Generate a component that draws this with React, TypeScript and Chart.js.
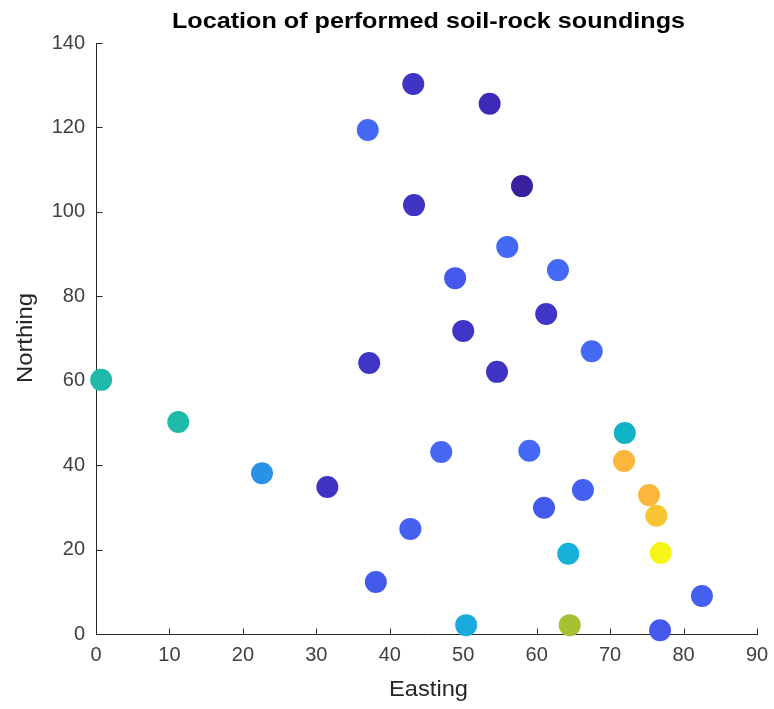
import React, { useEffect, useRef } from "react";
import { Chart, registerables } from "chart.js";

Chart.register(...registerables);

const chartTitle = "Location of performed soil-rock soundings";
const xTitle = "Easting";
const yTitle = "Northing";

const easting = [
  0.7, 11.2, 22.6, 31.5, 38.1, 42.8, 47.0, 50.4, 37.2, 37.0, 43.2,
  43.3, 53.6, 58.0, 56.0, 48.9, 62.9, 50.0, 61.3, 67.5, 54.6, 59.0,
  61.0, 66.3, 64.3, 64.5, 72.0, 71.9, 75.3, 76.3, 76.9, 76.8, 82.5,
];
const northing = [
  60.2, 50.2, 38.1, 34.8, 12.3, 24.9, 43.1, 2.1, 64.2, 119.4, 130.3,
  101.6, 125.6, 106.1, 91.7, 84.3, 86.2, 71.8, 75.8, 67.0, 62.1, 43.4,
  29.9, 34.1, 19.0, 2.1, 47.6, 41.0, 32.9, 28.0, 19.2, 0.9, 9.0,
];
const pointColors = [
  "#1fbba8", "#1fbba8", "#2a92e6", "#3f33c4", "#4359ec", "#4660f0", "#4666f4",
  "#1aaadd", "#3f35c6", "#4468f5", "#3f34c4", "#3f34c4", "#3c2bb6", "#38209f",
  "#4469f5", "#4458ec", "#4469f5", "#3f35c6", "#3f35c6", "#4469f5", "#3f33c4",
  "#4469f5", "#445aee", "#4460f0", "#16b0d8", "#a6c131", "#12b2c6", "#fbb63c",
  "#fbb63c", "#f8c532", "#f7f41a", "#4458ec", "#4460f0",
];
const xMin = 0, xMax = 90, xStep = 10;
const yMin = 0, yMax = 140, yStep = 20;

const AXIS = "#262626";
const FAMILY = "'Liberation Sans', Arial, sans-serif";

const overlay = {
  id: "overlay",
  beforeDatasetsDraw(chart: any) {
    const { ctx, chartArea, scales } = chart;
    const x = scales.x, y = scales.y;
    ctx.save();
    ctx.strokeStyle = AXIS;
    ctx.lineWidth = 1;
    ctx.beginPath();
    const b = Math.round(chartArea.bottom) + 0.5;
    const l = Math.round(chartArea.left) + 0.5;
    ctx.moveTo(l, Math.round(chartArea.top));
    ctx.lineTo(l, b);
    ctx.lineTo(Math.round(chartArea.right) + 1, b);
    x.ticks.forEach((t: any) => {
      const px = Math.round(x.getPixelForValue(t.value)) + 0.5;
      ctx.moveTo(px, b);
      ctx.lineTo(px, b - 6);
    });
    y.ticks.forEach((t: any) => {
      const py = Math.round(y.getPixelForValue(t.value)) + 0.5;
      ctx.moveTo(l, py);
      ctx.lineTo(l + 6, py);
    });
    ctx.stroke();
    ctx.restore();
  },
  afterDraw(chart: any) {
    const { ctx, chartArea } = chart;
    const cx = (chartArea.left + chartArea.right) / 2 + 2;
    const drawText = (text: string, font: string, color: string, x: number, yy: number, width: number, rot: number) => {
      ctx.save();
      ctx.font = font;
      ctx.fillStyle = color;
      ctx.textAlign = "center";
      ctx.textBaseline = "middle";
      const w = ctx.measureText(text).width;
      ctx.translate(x, yy);
      ctx.rotate(rot);
      ctx.scale(width / w, 1);
      ctx.fillText(text, 0, 0);
      ctx.restore();
    };
    drawText(chartTitle, "bold 22px " + FAMILY, "#000", cx, 22, 513, 0);
    drawText(xTitle, "22px " + FAMILY, AXIS, cx, 690, 79, 0);
    drawText(yTitle, "22px " + FAMILY, AXIS, 26, 338, 90, -Math.PI / 2);
  },
};

export default function App() {
  const ref = useRef<HTMLCanvasElement>(null);
  useEffect(() => {
    document.body.style.margin = "0";
    const data = easting.map((e, i) => ({ x: e, y: northing[i] }));
    const chart = new Chart(ref.current as HTMLCanvasElement, {
      type: "scatter",
      data: {
        datasets: [
          {
            data,
            backgroundColor: pointColors,
            borderWidth: 0,
            pointRadius: 11,
            pointHoverRadius: 11,
            clip: false,
          } as any,
        ],
      },
      plugins: [overlay],
      options: {
        animation: false,
        responsive: false,
        devicePixelRatio: 1,
        events: [],
        layout: { padding: { left: 0, right: 17, top: 43, bottom: 0 } },
        plugins: { legend: { display: false }, tooltip: { enabled: false }, title: { display: false } },
        scales: {
          x: {
            type: "linear",
            min: xMin,
            max: xMax,
            ticks: { stepSize: xStep, padding: 9, color: "#404040", font: { size: 20, family: FAMILY } },
            grid: { display: false, drawTicks: false },
            border: { display: false },
            afterFit: (s: any) => { s.height = 75; s.paddingRight = 0; s.paddingLeft = 0; },
          },
          y: {
            type: "linear",
            min: yMin,
            max: yMax,
            ticks: { stepSize: yStep, padding: 11, color: "#404040", font: { size: 20, family: FAMILY } },
            grid: { display: false, drawTicks: false },
            border: { display: false },
            afterFit: (s: any) => { s.width = 96; s.paddingTop = 0; s.paddingBottom = 0; },
          },
        },
      },
    });
    return () => chart.destroy();
  }, []);
  return <canvas ref={ref} width={774} height={709} style={{ display: "block" }} />;
}
